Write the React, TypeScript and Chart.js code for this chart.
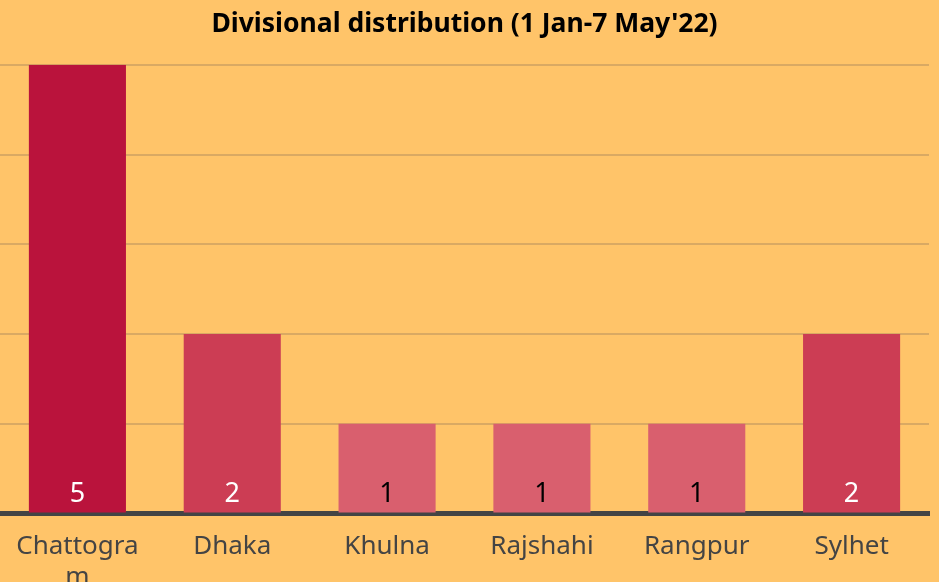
import React, { useEffect, useRef } from "react";
import { Chart, registerables } from "chart.js";

Chart.register(...registerables);

const categories: (string | string[])[] = [["Chattogra", "m"], "Dhaka", "Khulna", "Rajshahi", "Rangpur", "Sylhet"];
const values: number[] = [5, 2, 1, 1, 1, 2];
const barColors: string[] = ["#BA133C", "#CC3D54", "#D95F6E", "#D95F6E", "#D95F6E", "#CC3D54"];
const labelColors: string[] = ["#FFFFFF", "#FFFFFF", "#000000", "#000000", "#000000", "#FFFFFF"];
const titleText = "Divisional distribution (1 Jan-7 May'22)";
const FONT = "'Noto Sans', sans-serif";

const valueLabels = {
  id: "valueLabels",
  afterDatasetsDraw(chart: any) {
    const ctx = chart.ctx;
    const meta = chart.getDatasetMeta(0);
    ctx.save();
    ctx.font = `27px ${FONT}`;
    ctx.textAlign = "center";
    ctx.textBaseline = "middle";
    meta.data.forEach((bar: any, i: number) => {
      ctx.fillStyle = labelColors[i];
      ctx.fillText(String(values[i]), bar.x, bar.base - 18);
    });
    ctx.restore();
  },
};

const bgPlugin = {
  id: "bg",
  beforeDraw(chart: any) {
    const ctx = chart.ctx;
    ctx.save();
    ctx.fillStyle = "#FFC469";
    ctx.fillRect(0, 0, chart.width, chart.height);
    ctx.restore();
  },
};

export default function App() {
  const ref = useRef<HTMLCanvasElement>(null);
  useEffect(() => {
    document.body.style.margin = "0";
    document.body.style.background = "#FFC469";
    const chart = new Chart(ref.current!, {
      type: "bar",
      data: {
        labels: categories,
        datasets: [
          {
            data: values,
            backgroundColor: barColors,
            barPercentage: 1,
            categoryPercentage: 0.627,
          },
        ],
      },
      options: {
        animation: false,
        responsive: false,
        layout: { padding: { left: 0, right: 10, top: 0, bottom: 0 } },
        plugins: {
          legend: { display: false },
          tooltip: { enabled: false },
          title: {
            display: true,
            text: titleText,
            color: "#000000",
            font: { family: FONT, size: 26.5, weight: "bold", lineHeight: 1.2 },
            padding: { top: 9, bottom: 24 },
          },
        },
        scales: {
          x: {
            grid: { display: false },
            border: { display: true, color: "#444444", width: 5 },
            ticks: {
              color: "#444444",
              font: { family: FONT, size: 26, lineHeight: 1.2 },
              padding: 9,
              maxRotation: 0,
              autoSkip: false,
            },
          },
          y: {
            min: 0,
            max: 5,
            grid: { color: "#D9A963", lineWidth: 2, drawTicks: false },
            border: { display: false },
            ticks: { display: false, stepSize: 1 },
          },
        },
      },
      plugins: [bgPlugin, valueLabels],
    });
    return () => chart.destroy();
  }, []);
  return (
    <div style={{ width: 939, height: 602, overflow: "hidden" }}>
      <canvas ref={ref} width={939} height={602} style={{ display: "block" }} />
    </div>
  );
}
